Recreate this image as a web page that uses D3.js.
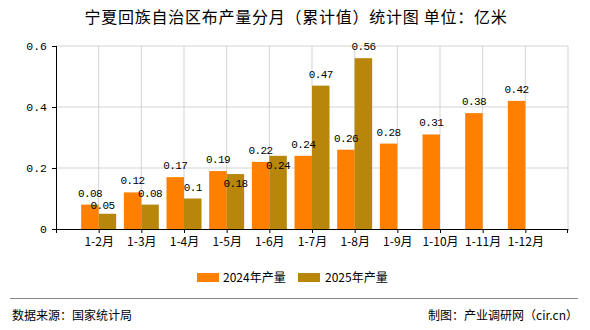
<!DOCTYPE html>
<html><head><meta charset="utf-8">
<script src="https://cdn.jsdelivr.net/npm/d3@7"></script>
<style>body{margin:0;background:#fff}svg{display:block}</style>
</head><body>
<svg id="c" width="590" height="330"></svg>
<script>
const categories = ["1-2月","1-3月","1-4月","1-5月","1-6月","1-7月","1-8月","1-9月","1-10月","1-11月","1-12月"];
const values2024 = [0.08,0.12,0.17,0.19,0.22,0.24,0.26,0.28,0.31,0.38,0.42];
const values2025 = [0.05,0.08,0.1,0.18,0.24,0.47,0.56,null,null,null,null];
const yTicks = [0,0.2,0.4,0.6];
const seriesNames = ["2024年产量","2025年产量"];
const colors = ["#FF8000","#B8860B"];

const svg = d3.select("#c");
const L=56,R=568,T=46,B=229;
const x = d3.scalePoint().domain(categories).range([L,R]).padding(1);
const y = d3.scaleLinear().domain([0,0.6]).range([B,T]);
const bw = 17.5;
const cjk = "'Noto Sans CJK SC','Noto Sans',sans-serif";
const mono = "'Liberation Mono','DejaVu Sans Mono',monospace";

svg.append("text").attr("x",296).attr("y",23).attr("text-anchor","middle")
  .attr("font-family",cjk).attr("font-size",16).attr("letter-spacing","0.75px").attr("fill","#000")
  .text("宁夏回族自治区布产量分月（累计值）统计图 单位：亿米");

// grid
const g = svg.append("g");
yTicks.filter(d=>d>0).forEach(t=>{
  g.append("line").attr("x1",L).attr("x2",R).attr("y1",y(t)).attr("y2",y(t)).attr("stroke","#d3d3d3");
});
categories.forEach(c=>{
  g.append("line").attr("x1",x(c)).attr("x2",x(c)).attr("y1",T).attr("y2",B).attr("stroke","#d3d3d3");
});
g.append("line").attr("x1",R).attr("x2",R).attr("y1",T).attr("y2",B).attr("stroke","#d3d3d3");

// bars
const series=[values2024,values2025];
series.forEach((vals,si)=>{
  categories.forEach((c,i)=>{
    const v=vals[i]; if(v==null) return;
    const x0 = si===0 ? x(c)-bw : x(c);
    svg.append("rect").attr("x",x0).attr("y",y(v)).attr("width",bw).attr("height",B-y(v)).attr("fill",colors[si]);
  });
});
// labels with simple collision avoidance
function lab(cx,by,t){
  svg.append("text").attr("x",cx).attr("y",by).attr("text-anchor","middle")
    .attr("font-family",mono).attr("font-size",11).attr("letter-spacing","-0.6px").attr("fill","#000").text(t);
}
categories.forEach((c,i)=>{
  const v1=values2024[i], v2=values2025[i];
  const b1 = y(v1)-8;
  lab(x(c)-bw/2, b1, String(v1));
  if(v2==null) return;
  let b2 = y(v2)-8, cx2 = x(c)+bw/2;
  if(Math.abs(b2-b1)<11){
    if(B-y(v2)>=25){ b2 = y(v2)+13; }
    else { b2 = b1+12; cx2 -= 5; }
  }
  lab(cx2, b2, String(v2));
});

// axes
const yAxis = d3.axisLeft(y).tickValues(yTicks).tickSize(4).tickFormat(d=>d===0?"0":d3.format(".1f")(d));
const ya = svg.append("g").attr("transform",`translate(${L},0)`).call(yAxis);
ya.select(".domain").remove();
ya.selectAll("text").attr("font-family",mono).attr("font-size",11.5).attr("fill","#000").attr("x",-9);
ya.selectAll("line").attr("stroke","#000");
svg.append("line").attr("x1",L+0.5).attr("x2",L+0.5).attr("y1",T).attr("y2",B+4).attr("stroke","#000");

const xAxis = d3.axisBottom(x).tickSize(4).tickSizeOuter(0);
const xa = svg.append("g").attr("transform",`translate(0,${B})`).call(xAxis);
xa.select(".domain").attr("stroke","#000");
xa.selectAll("line").attr("stroke","#000");
xa.selectAll("text").attr("font-family",cjk).attr("font-size",12).attr("fill","#000").attr("y",8);
svg.append("line").attr("x1",R-0.5).attr("x2",R-0.5).attr("y1",B).attr("y2",B+4).attr("stroke","#000");

// legend
const leg=[{x:197,tx:223},{x:298,tx:325}];
seriesNames.forEach((n,i)=>{
  svg.append("rect").attr("x",leg[i].x).attr("y",273).attr("width",22).attr("height",9).attr("fill",colors[i]);
  svg.append("text").attr("x",leg[i].tx).attr("y",282).attr("font-family",cjk).attr("font-size",12).attr("fill","#000").text(n);
});

// footer
svg.append("line").attr("x1",10).attr("x2",578).attr("y1",298.5).attr("y2",298.5).attr("stroke","#888");
svg.append("text").attr("x",12).attr("y",320).attr("font-family",cjk).attr("font-size",12).attr("fill","#000").text("数据来源：国家统计局");
svg.append("text").attr("x",578).attr("y",320).attr("text-anchor","end").attr("font-family",cjk).attr("font-size",12).attr("fill","#000").text("制图：产业调研网（cir.cn）");
</script>
</body></html>
